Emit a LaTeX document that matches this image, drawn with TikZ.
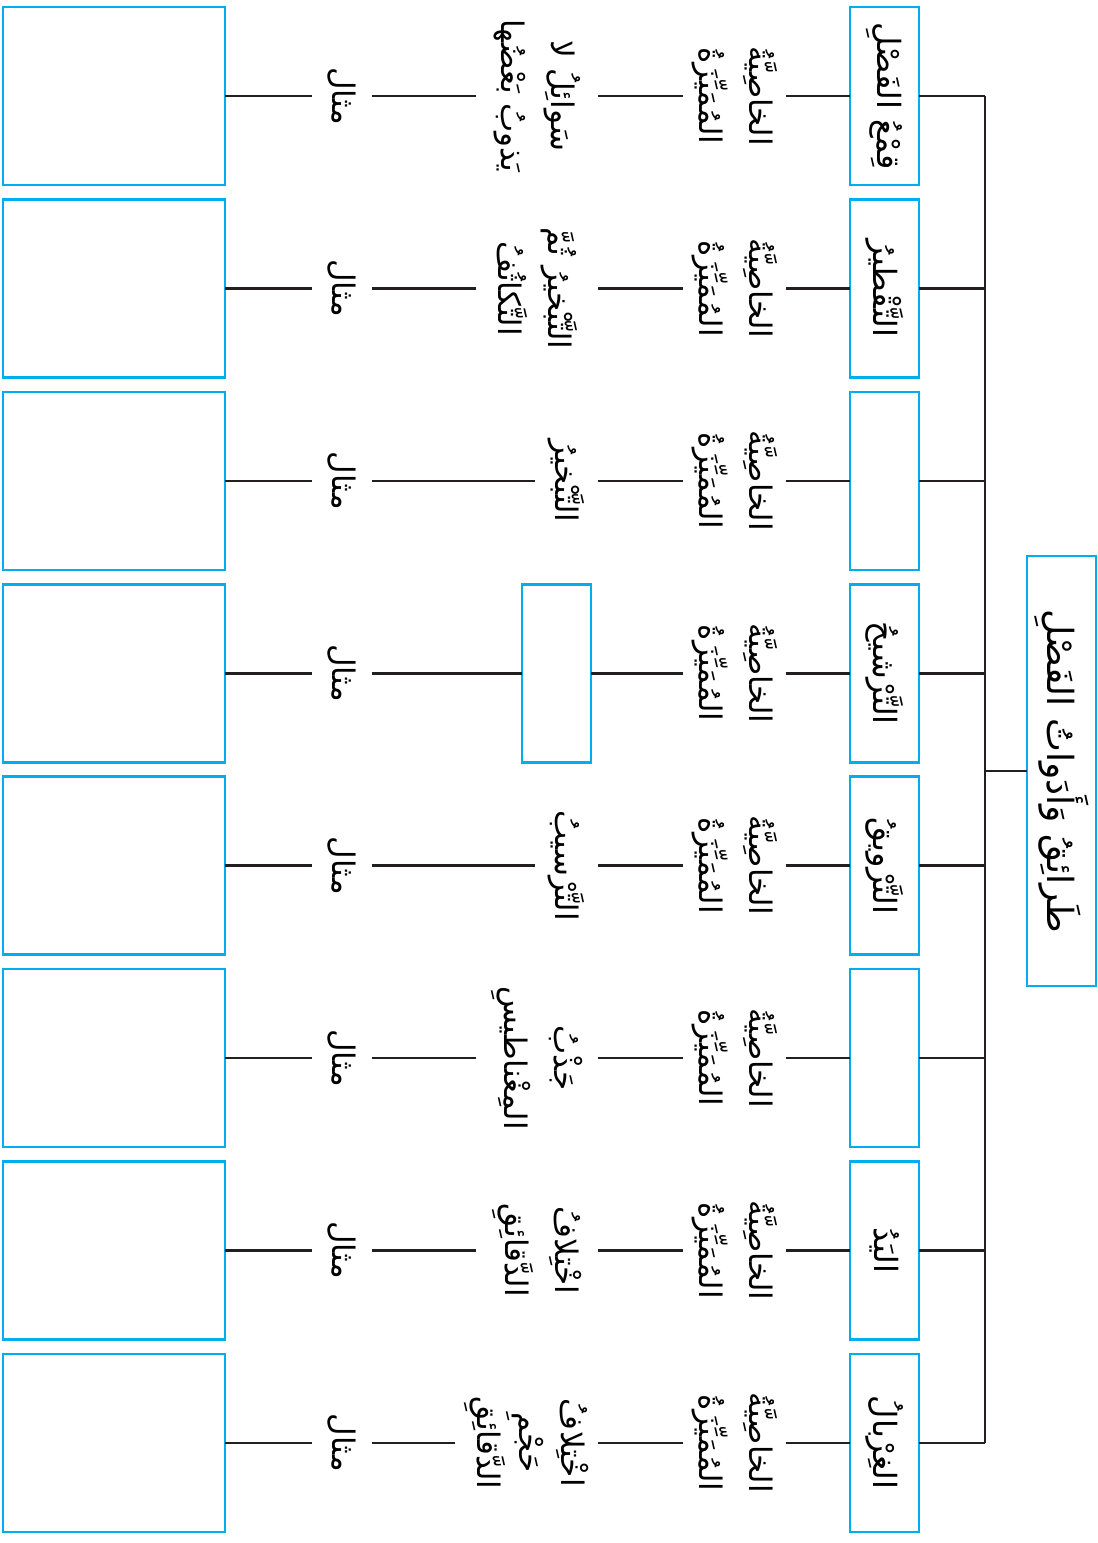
\documentclass[tikz,border=0pt]{standalone}
\usepackage{fontspec}
\newfontfamily\arabicfont[Script=Arabic]{DejaVu Sans}
\TeXXeTstate=1
\definecolor{cy}{RGB}{0,174,239}
\definecolor{ink}{RGB}{35,31,32}
\newcommand{\artxt}[1]{\beginR#1\endR}
\newcommand{\arfont}{\arabicfont\fontsize{31}{50}\selectfont}
\newcommand{\boxfont}{\arabicfont\fontsize{32}{50}\selectfont}
\newcommand{\titlefont}{\arabicfont\fontsize{36}{50}\selectfont}
\newcommand{\baserow}[3]{%
  \node[cbox] (b#1) at (884.5,#2) {#3};
  \node[prop] (p#1) at (734.5,#2) {\beginR الخاصِيَّةُ\endR\\\beginR المُمَيِّزَةُ\endR};
  \node[ex] (e#1) at (342,#2) {\beginR مثال\endR};
  \node[bigbox] (g#1) at (114,#2) {};
  \draw[ln] (b#1.south) -- (p#1.north);
  \draw[ln] (e#1.south) -- (g#1.east);
  \draw[ln] (b#1.north) -- (b#1.north -| bj);
}
\begin{document}
\begin{tikzpicture}[x=1pt,y=-1pt,
  every node/.style={inner sep=0pt,outer sep=0pt},
  ln/.style={draw=ink,line width=2.6pt},
  cbox/.style={draw=cy,line width=2.6pt,rotate=-90,minimum width=178pt,minimum height=69pt,font=\boxfont},
  tbox/.style={cbox,minimum width=430pt,font=\titlefont},
  bigbox/.style={draw=cy,line width=2.6pt,minimum width=222pt,minimum height=178pt},
  prop/.style={rotate=-90,minimum height=103pt,align=center,font=\arfont},
  feat/.style={rotate=-90,anchor=north,align=center,font=\arfont},
  ex/.style={rotate=-90,minimum height=60pt,font=\arfont}]
\useasboundingbox (0,0) rectangle (1098,1543);
\coordinate (bj) at (985,771);
\node[tbox] (title) at (1061.5,771) {\beginR طَرائِقُ وَأَدَواتُ الفَصْلِ\endR};
\draw[ln] (title.south) -- (bj);

\baserow{1}{96}{\beginR قِمْعُ الفَصْلِ\endR}
\baserow{2}{288.4}{\beginR التَّقْطيرُ\endR}
\baserow{3}{480.8}{}
\baserow{4}{673.2}{\beginR التَّرْشيحُ\endR}
\baserow{5}{865.6}{\beginR التَّرْويقُ\endR}
\baserow{6}{1058}{}
\baserow{7}{1250.4}{\beginR اليَدُ\endR}
\baserow{8}{1442.8}{\beginR الغِرْبالُ\endR}

\draw[ln] (b1.north -| bj) -- (b8.north -| bj);

\node[feat,minimum height=122pt] (f1) at (598,96) {\beginR سَوائِلُ لا\endR\\\beginR يَذوبُ بَعْضُها\endR};
\node[feat,minimum height=122pt] (f2) at (598,288.4) {\beginR التَّبْخيرُ ثُمَّ\endR\\\beginR التَّكاثُفُ\endR};
\node[feat,minimum height=63pt] (f3) at (598,480.8) {\beginR التَّبْخيرُ\endR};
\node[cbox] (f4) at (556.5,673.2) {};
\node[feat,minimum height=63pt] (f5) at (598,865.6) {\beginR التَّرْسيبُ\endR};
\node[feat,minimum height=122pt] (f6) at (598,1058) {\beginR جَذْبُ\endR\\\beginR المِغْناطيسِ\endR};
\node[feat,minimum height=122pt] (f7) at (598,1250.4) {\beginR اخْتِلافُ\endR\\\beginR الدَّقائِقِ\endR};
\node[feat,minimum height=143pt,font=\arabicfont\fontsize{31}{42}\selectfont] (f8) at (598,1442.8) {\beginR اخْتِلافُ\endR\\\beginR حَجْمِ\endR\\\beginR الدَّقائِقِ\endR};

\foreach \i in {1,...,8}{
  \draw[ln] (p\i.south) -- (f\i.north);
  \draw[ln] (f\i.south) -- (e\i.north);
}
\end{tikzpicture}
\end{document}
